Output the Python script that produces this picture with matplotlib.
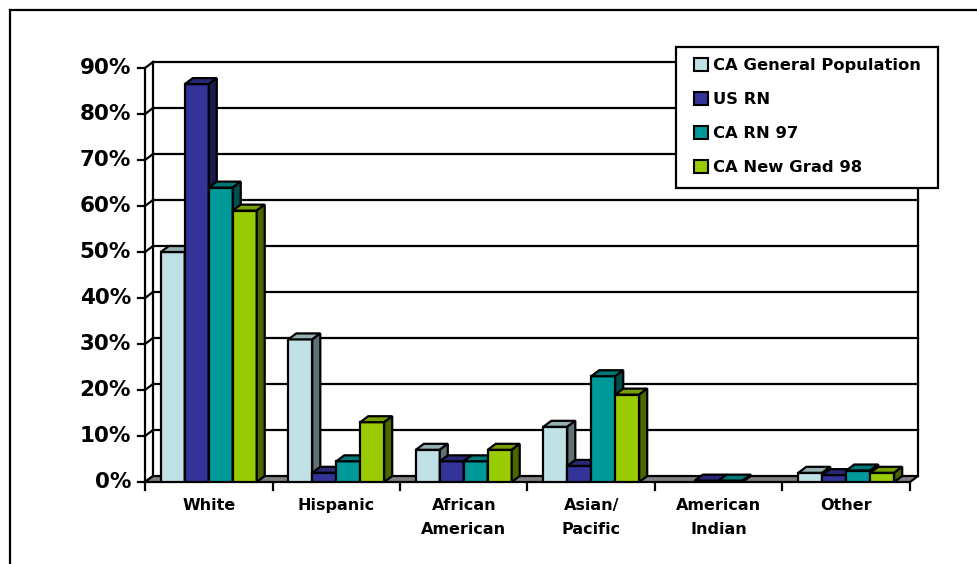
import matplotlib.pyplot as plt
from matplotlib.patches import Polygon, Rectangle
from matplotlib.lines import Line2D
import matplotlib.colors as mcolors

categories = ['White', 'Hispanic', 'African\nAmerican', 'Asian/\nPacific', 'American\nIndian', 'Other']
series_names = ['CA General Population', 'US RN', 'CA RN 97', 'CA New Grad 98']
ca_general = [50, 31, 7, 12, 0, 2]
us_rn = [86.5, 2, 4.5, 3.5, 0.3, 1.5]
ca_rn_97 = [64, 4.5, 4.5, 23, 0.3, 2.5]
ca_new_grad_98 = [59, 13, 7, 19, 0, 2]
yticks = [0, 10, 20, 30, 40, 50, 60, 70, 80, 90]

colors = ['#bfe1e5', '#333399', '#009999', '#99cc00']
series = [ca_general, us_rn, ca_rn_97, ca_new_grad_98]

# depth of the 3d effect, in data units
DX = 0.063
DY = 1.3
LW = 1.6

def shade(c, f):
    r, g, b = mcolors.to_rgb(c)
    return (r * f, g * f, b * f)

fig = plt.figure(figsize=(9.77, 5.64), dpi=100)
ax = fig.add_axes([145 / 977, 82 / 564, 765 / 977, 414 / 564])
ax.set_xlim(0, len(categories))
ax.set_ylim(0, 90)
ax.axis('off')

# outer chart frame
fig.add_artist(Line2D([10 / 977, 1.0], [1 - 10 / 564] * 2, color='black', lw=LW, transform=fig.transFigure))
fig.add_artist(Line2D([10 / 977] * 2, [0, 1 - 10 / 564], color='black', lw=LW, transform=fig.transFigure))

n = len(categories)
kw = dict(color='black', lw=LW, clip_on=False)

# back wall gridlines, left wall diagonals and tick marks
for t in yticks:
    if t > 0:
        ax.plot([DX, n + DX], [t + DY, t + DY], zorder=1, **kw)
    ax.plot([0, DX], [t, t + DY], zorder=1, **kw)
    ax.plot([-0.055, 0], [t, t], zorder=1, **kw)
    ax.text(-0.11, t, f'{t}%', ha='right', va='center', fontsize=15.5,
            fontweight='bold')
ax.plot([0, 0], [0, 90], zorder=1, **kw)
ax.plot([DX, DX], [DY, 90 + DY], zorder=1, **kw)
ax.plot([n + DX, n + DX], [DY, 90 + DY], zorder=1, **kw)

# floor
floor = Polygon([(0, 0), (n, 0), (n + DX, DY), (DX, DY)], closed=True,
                facecolor='#808080', edgecolor='black', lw=LW, clip_on=False, zorder=2)
ax.add_patch(floor)

# category ticks and labels
for i in range(n + 1):
    ax.plot([i, i], [0, -1.8], zorder=1, **kw)
for i, cat in enumerate(categories):
    ax.text(i + 0.5, -3.4, cat, ha='center', va='top', fontsize=11.5,
            fontweight='bold', linespacing=1.75)

# bars with front, top and side faces
width = 0.188
start = 0.5 - 2 * width
z = 3
for i in range(n):
    for j, vals in enumerate(series):
        v = vals[i]
        if v <= 0:
            continue
        x0 = i + start + j * width
        x1 = x0 + width
        c = colors[j]
        ax.bar(x0, v, width=width, align='edge', color=c, edgecolor='black',
               lw=LW, zorder=z)
        top = Polygon([(x0, v), (x1, v), (x1 + DX, v + DY), (x0 + DX, v + DY)],
                      closed=True, facecolor=shade(c, 0.78), edgecolor='black',
                      lw=LW, zorder=z, clip_on=False)
        side = Polygon([(x1, 0), (x1 + DX, DY), (x1 + DX, v + DY), (x1, v)],
                       closed=True, facecolor=shade(c, 0.5), edgecolor='black',
                       lw=LW, zorder=z, clip_on=False)
        ax.add_patch(top)
        ax.add_patch(side)
        z += 1

# legend box
box = Rectangle((676 / 977, 1 - 188 / 564), 262 / 977, 141 / 564,
                transform=fig.transFigure, facecolor='white', edgecolor='black',
                lw=LW, zorder=90)
fig.add_artist(box)
handles = [Rectangle((0, 0), 1, 1, facecolor=c, edgecolor='black', lw=1.5) for c in colors]
leg = fig.legend(handles, series_names, loc='upper left',
                 bbox_to_anchor=(685 / 977, 1 - 49 / 564),
                 prop={'weight': 'bold', 'size': 11.8}, frameon=False,
                 handlelength=0.85, handleheight=0.85,
                 handletextpad=0.3, labelspacing=1.15, borderpad=0.55,
                 borderaxespad=0)
leg.set_zorder(100)

fig.savefig('out.png', dpi=100)
